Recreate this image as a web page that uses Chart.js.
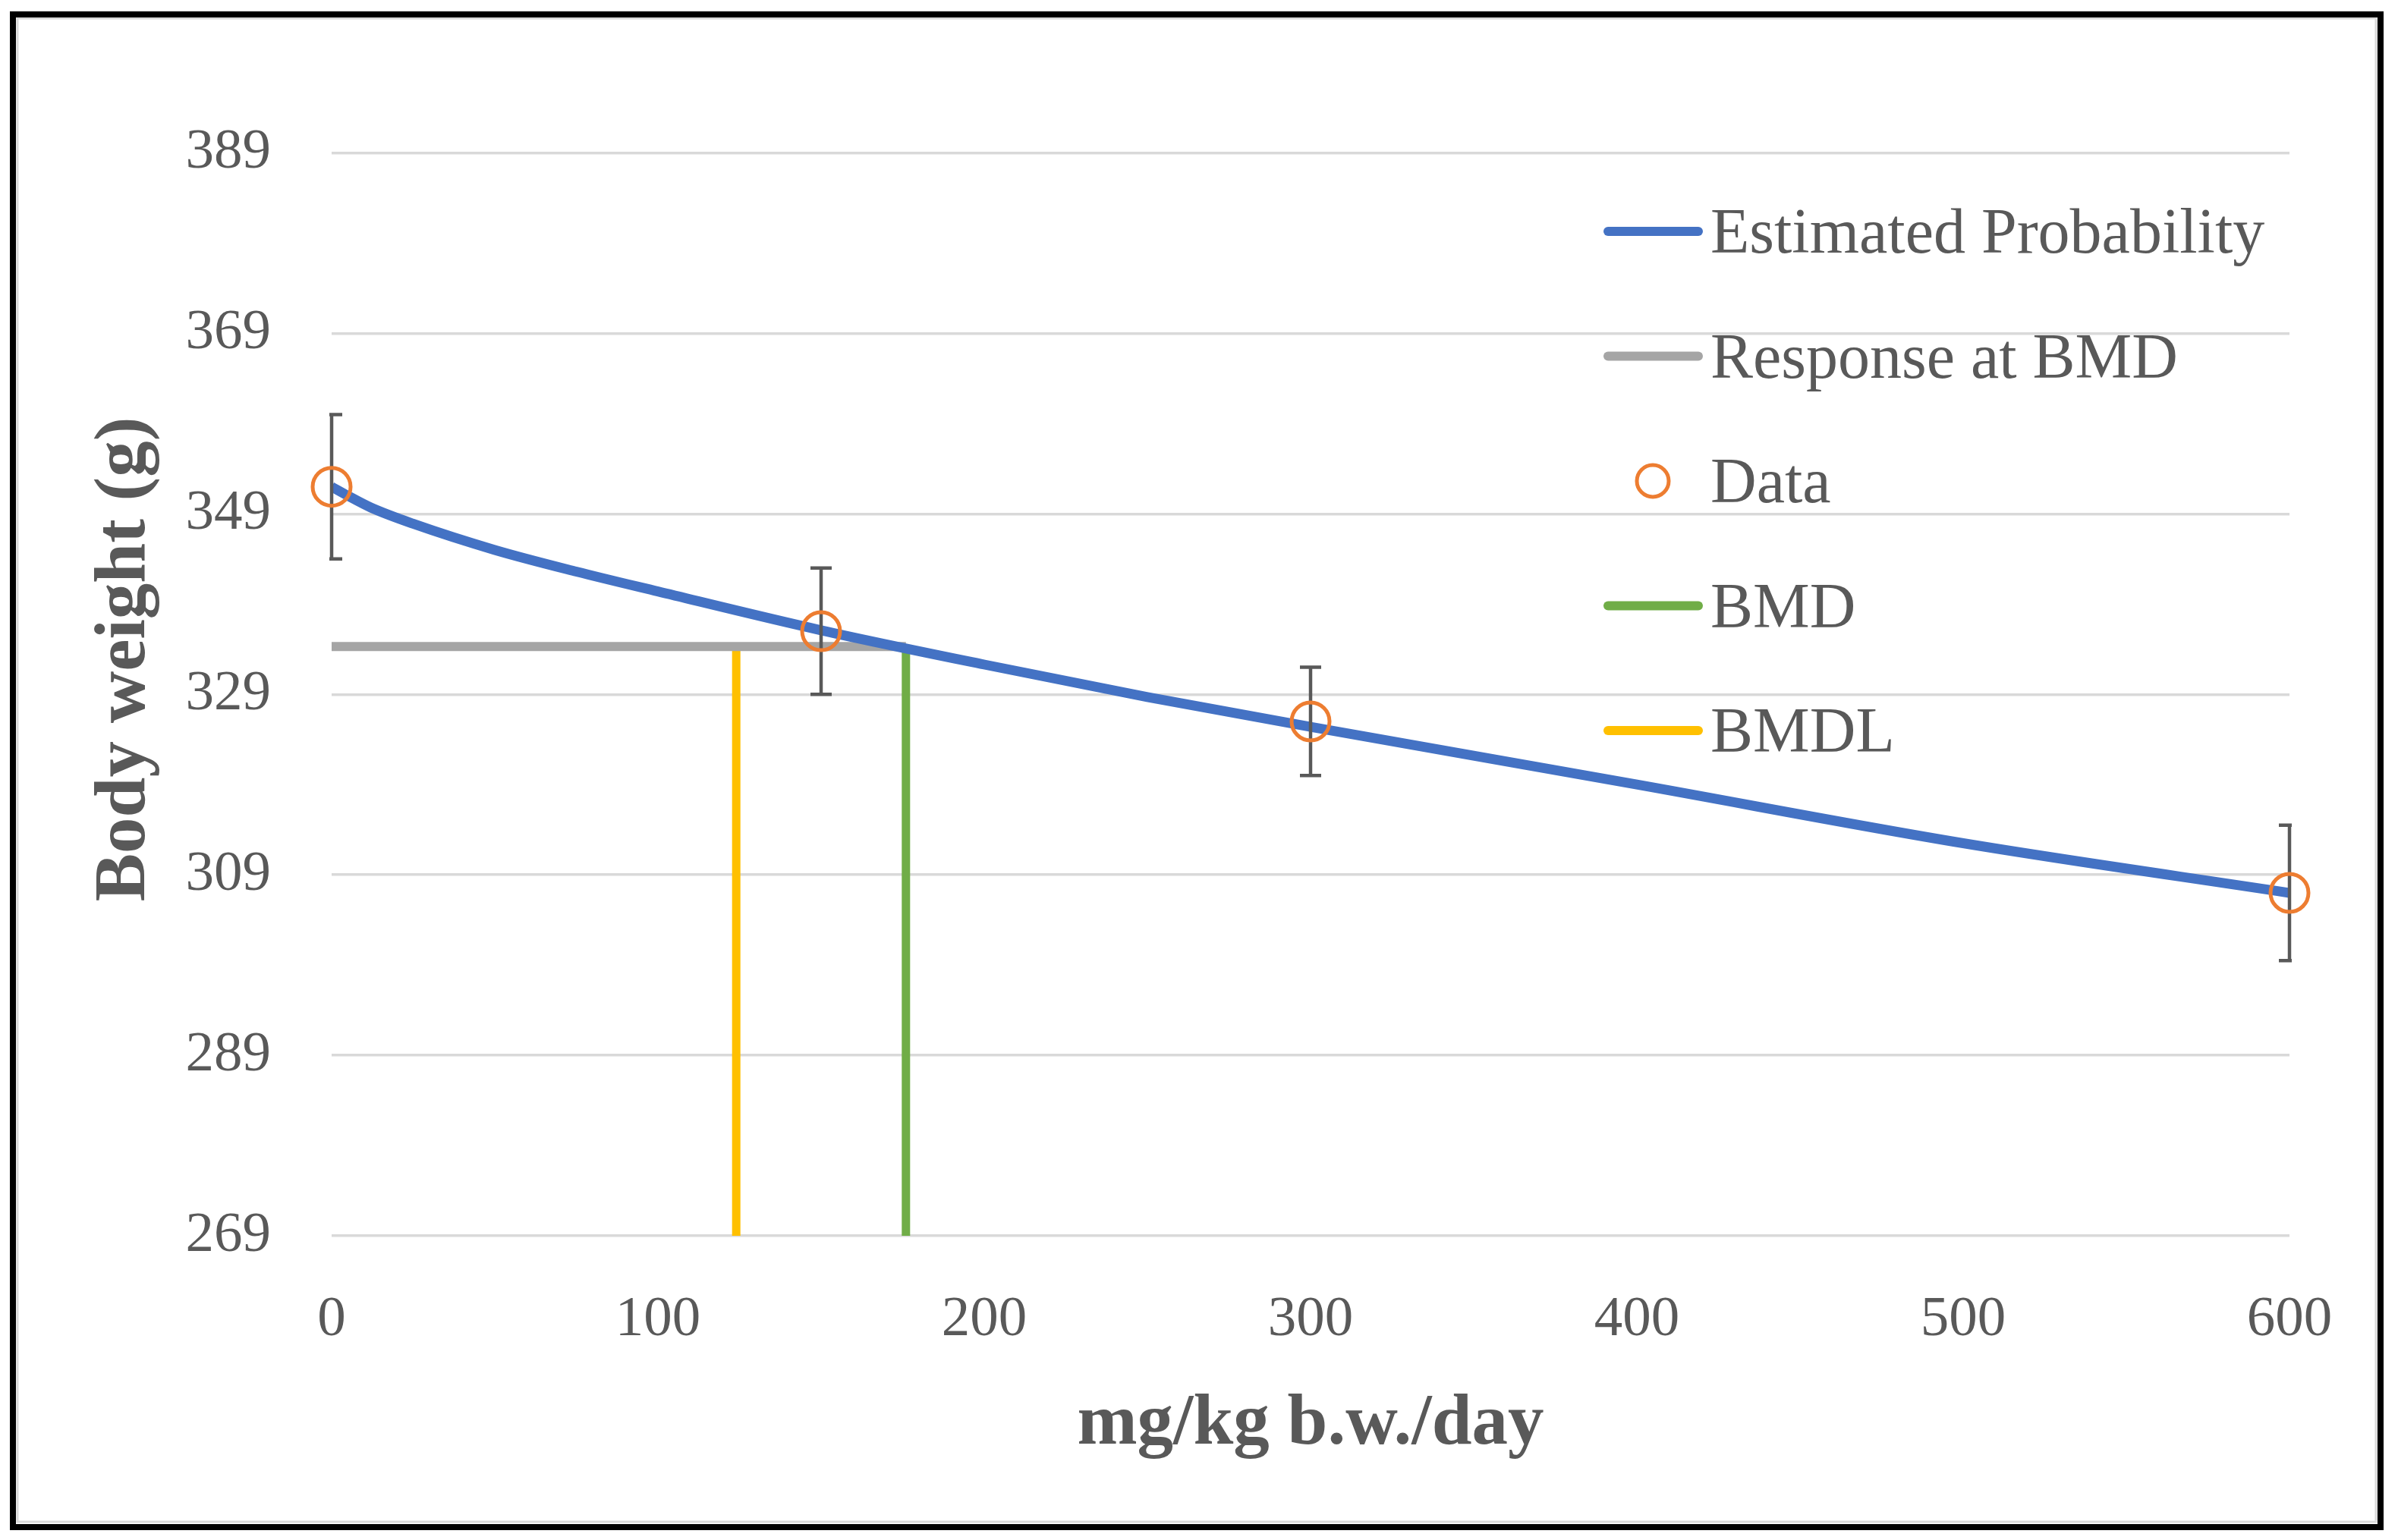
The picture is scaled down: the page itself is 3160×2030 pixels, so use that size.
<!DOCTYPE html>
<html>
<head>
<meta charset="utf-8">
<title>Body weight BMD</title>
<script src="https://cdn.jsdelivr.net/npm/chart.js@4.4.1/dist/chart.umd.min.js"></script>
<style>
  html, body { margin: 0; padding: 0; background: #ffffff; }
  #wrap { width: 3160px; height: 2030px; }
</style>
</head>
<body>
<div id="wrap"><canvas id="bmdChart" width="3160" height="2030"></canvas></div>
<script>
// group doses (mg/kg b.w./day) with mean body weight and SD
const doses = [0, 150, 300, 600];
const meanWeights = [352, 336, 326, 307];
const sdWeights = [8, 7, 6, 7.5];

// fitted model curve
const curveDoses = [0, 5, 12, 25, 50, 75, 100, 150, 200, 250, 300, 400, 500, 600];
const curveWeights = [352.0, 351.0, 349.7, 347.9, 345.0, 342.6, 340.4, 336.1, 332.3, 328.7, 325.4, 319.0, 312.5, 307.0];

// benchmark dose results
const bmd = 176;
const bmdl = 124;
const bmdResponse = 334.3;

const xTicks = [0, 100, 200, 300, 400, 500, 600];
const yTicks = [269, 289, 309, 329, 349, 369, 389];

const textColor = '#595959';
const serif = '"Liberation Serif", "Times New Roman", serif';

Chart.defaults.font.family = serif;
Chart.defaults.color = textColor;

// error bars, drawn just before the data circles
const errorBars = {
    id: 'errorBars',
    beforeDatasetDraw(chart, args) {
        if (chart.data.datasets[args.index].label !== 'Data') return;
        const { ctx, chartArea, scales: { x, y } } = chart;
        ctx.save();
        ctx.beginPath();
        ctx.rect(chartArea.left - 3, chartArea.top, chartArea.width + 6, chartArea.height);
        ctx.clip();
        ctx.strokeStyle = '#595959';
        ctx.lineWidth = 4.5;
        doses.forEach((d, i) => {
            const px = x.getPixelForValue(d);
            const top = y.getPixelForValue(meanWeights[i] + sdWeights[i]);
            const bot = y.getPixelForValue(meanWeights[i] - sdWeights[i]);
            ctx.beginPath();
            ctx.moveTo(px, top);
            ctx.lineTo(px, bot);
            ctx.moveTo(px - 14, top);
            ctx.lineTo(px + 14, top);
            ctx.moveTo(px - 14, bot);
            ctx.lineTo(px + 14, bot);
            ctx.stroke();
        });
        ctx.restore();
    }
};

// legend inside the plot, y axis title and the outer frame
const decorations = {
    id: 'decorations',
    afterDraw(chart) {
        const ctx = chart.ctx;
        ctx.save();

        // legend
        ctx.font = '84px ' + serif;
        ctx.fillStyle = textColor;
        ctx.textAlign = 'left';
        ctx.textBaseline = 'alphabetic';
        chart.data.datasets.forEach((ds, i) => {
            const rowY = 305 + i * 164.5;
            if (ds.showLine === false) {
                ctx.beginPath();
                ctx.arc(2178, rowY, 21, 0, Math.PI * 2);
                ctx.strokeStyle = ds.pointBorderColor;
                ctx.lineWidth = 5;
                ctx.stroke();
            } else {
                ctx.beginPath();
                ctx.moveTo(2119, rowY);
                ctx.lineTo(2238, rowY);
                ctx.strokeStyle = ds.borderColor;
                ctx.lineWidth = 12;
                ctx.lineCap = 'round';
                ctx.stroke();
            }
            ctx.fillText(ds.label, 2254, rowY + 28);
        });

        // y axis title
        ctx.save();
        ctx.translate(165, 869);
        ctx.rotate(-Math.PI / 2);
        ctx.font = 'bold 95px ' + serif;
        ctx.textAlign = 'center';
        ctx.textBaseline = 'middle';
        ctx.fillText('Body weight (g)', 0, 0);
        ctx.restore();

        // frame
        ctx.strokeStyle = '#D9D9D9';
        ctx.lineWidth = 3;
        ctx.strokeRect(23, 24, 3108, 1982);
        ctx.strokeStyle = '#000000';
        ctx.lineWidth = 8;
        ctx.strokeRect(17, 19, 3120, 1994);
        ctx.restore();
    }
};

const toPoints = (xs, ys) => xs.map((v, i) => ({ x: v, y: ys[i] }));

new Chart(document.getElementById('bmdChart').getContext('2d'), {
    type: 'scatter',
    data: {
        datasets: [
            {
                label: 'Estimated Probability',
                data: toPoints(curveDoses, curveWeights),
                showLine: true,
                borderColor: '#4472C4',
                borderWidth: 13,
                pointRadius: 0,
                cubicInterpolationMode: 'monotone',
                order: 1
            },
            {
                label: 'Response at BMD',
                data: toPoints([0, bmd], [bmdResponse, bmdResponse]),
                showLine: true,
                borderColor: '#A5A5A5',
                borderWidth: 12,
                pointRadius: 0,
                order: 2
            },
            {
                label: 'Data',
                data: toPoints(doses, meanWeights),
                showLine: false,
                clip: false,
                pointRadius: 25,
                pointBorderWidth: 5,
                pointBorderColor: '#ED7D31',
                pointBackgroundColor: 'rgba(255,255,255,0)',
                order: 0
            },
            {
                label: 'BMD',
                data: toPoints([bmd, bmd], [yTicks[0], bmdResponse]),
                showLine: true,
                borderColor: '#70AD47',
                borderWidth: 11,
                pointRadius: 0,
                order: 3
            },
            {
                label: 'BMDL',
                data: toPoints([bmdl, bmdl], [yTicks[0], bmdResponse]),
                showLine: true,
                borderColor: '#FFC000',
                borderWidth: 11,
                pointRadius: 0,
                order: 4
            }
        ]
    },
    options: {
        responsive: false,
        animation: false,
        devicePixelRatio: 1,
        layout: { padding: { left: 0, top: 201.5, right: 143, bottom: 0 } },
        plugins: {
            legend: { display: false },
            tooltip: { enabled: false }
        },
        scales: {
            x: {
                type: 'linear',
                min: 0,
                max: 600,
                afterBuildTicks: scale => { scale.ticks = xTicks.map(v => ({ value: v })); },
                afterFit: scale => { scale.height = 401; },
                grid: { display: false, drawTicks: false },
                border: { display: false },
                ticks: { font: { size: 75 }, padding: 66, autoSkip: false, maxRotation: 0, color: textColor },
                title: {
                    display: true,
                    text: 'mg/kg b.w./day',
                    font: { size: 95, weight: 'bold' },
                    color: textColor,
                    padding: { top: 0, bottom: 95 }
                }
            },
            y: {
                type: 'linear',
                min: yTicks[0],
                max: yTicks[yTicks.length - 1],
                afterBuildTicks: scale => { scale.ticks = yTicks.map(v => ({ value: v })); },
                afterFit: scale => { scale.width = 437; },
                grid: { color: '#D9D9D9', lineWidth: 3.5, drawTicks: false },
                border: { display: false },
                ticks: { font: { size: 75 }, padding: 80, autoSkip: false, color: textColor }
            }
        }
    },
    plugins: [errorBars, decorations]
});
</script>
</body>
</html>
